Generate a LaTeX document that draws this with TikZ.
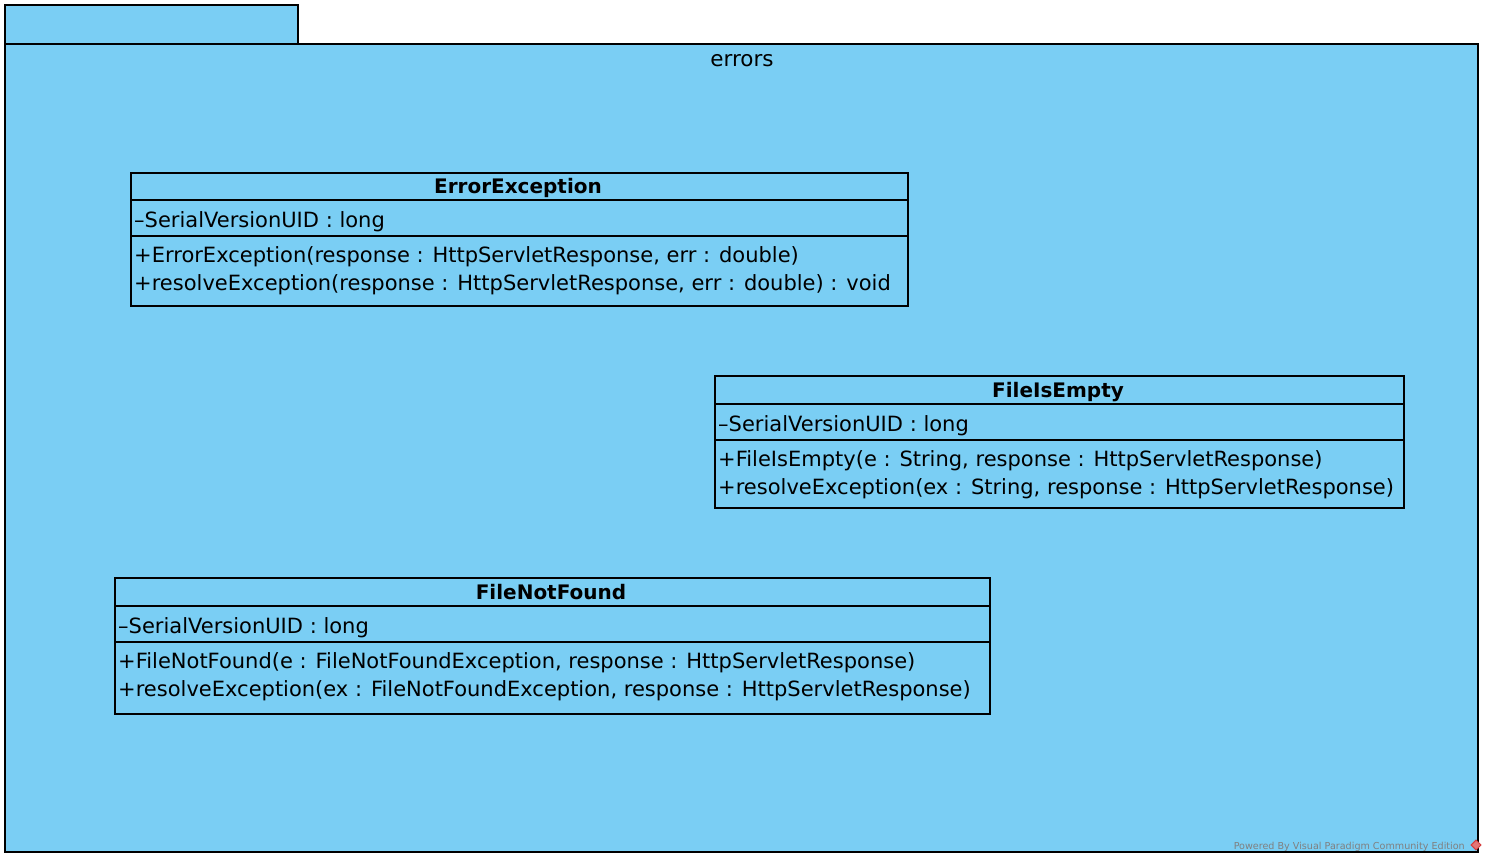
\documentclass[tikz,border=0pt]{standalone}
\usepackage{fontspec}
\setmainfont{DejaVu Sans}
\definecolor{pkgblue}{RGB}{122,206,244}
\definecolor{vpred}{RGB}{214,60,60}
\begin{document}
\begin{tikzpicture}[x=1pt,y=-1pt,
  pkgbox/.style={draw=black, fill=pkgblue, line width=1.4pt, anchor=north west, inner sep=0pt, outer sep=0pt},
  comp/.style={draw=black, fill=pkgblue, line width=1.4pt, anchor=north west, inner sep=0pt, outer sep=0pt},
  title/.style={font=\fontsize{20}{24}\selectfont\bfseries, inner sep=0pt, anchor=base},
  member/.style={font=\fontsize{21}{24}\selectfont, anchor=base west, inner sep=0pt},
  pkgname/.style={font=\fontsize{21.5}{24}\selectfont, inner sep=0pt, anchor=base},
  wmtext/.style={font=\fontsize{9.6}{11}\selectfont, text=gray, anchor=base east, inner sep=0pt}
]
\useasboundingbox (0,0) rectangle (1488,862);
\fill[white] (0,0) rectangle (1488,862);
% package
\node[pkgbox, minimum width=293, minimum height=39] (tab) at (5,5) {};
\node[pkgbox, minimum width=1473, minimum height=808] (pkg) at (5,44) {};
\node[pkgname] (pkglabel) at (742,66) {errors};

% ErrorException
\node[comp, minimum width=777, minimum height=27] (eeH) at (131,173) {};
\node[comp, minimum width=777, minimum height=36] (eeA) at (131,200) {};
\node[comp, minimum width=777, minimum height=70] (eeO) at (131,236) {};
\node[title] (eeT) at (518,193) {ErrorException};
\node[member] (eeA1) at (134,227) {–SerialVersionUID : long};
\node[member] (eeO1) at (134,262) {+ErrorException(response : HttpServletResponse, err : double)};
\node[member] (eeO2) at (134,290) {+resolveException(response : HttpServletResponse, err : double) : void};

% FileIsEmpty
\node[comp, minimum width=689, minimum height=28] (feH) at (715,376) {};
\node[comp, minimum width=689, minimum height=36] (feA) at (715,404) {};
\node[comp, minimum width=689, minimum height=68] (feO) at (715,440) {};
\node[title] (feT) at (1058,397) {FileIsEmpty};
\node[member] (feA1) at (718,431) {–SerialVersionUID : long};
\node[member] (feO1) at (718,466) {+FileIsEmpty(e : String, response : HttpServletResponse)};
\node[member] (feO2) at (718,494) {+resolveException(ex : String, response : HttpServletResponse)};

% FileNotFound
\node[comp, minimum width=875, minimum height=28] (fnH) at (115,578) {};
\node[comp, minimum width=875, minimum height=36] (fnA) at (115,606) {};
\node[comp, minimum width=875, minimum height=72] (fnO) at (115,642) {};
\node[title] (fnT) at (551,599) {FileNotFound};
\node[member] (fnA1) at (118,633) {–SerialVersionUID : long};
\node[member] (fnO1) at (118,668) {+FileNotFound(e : FileNotFoundException, response : HttpServletResponse)};
\node[member] (fnO2) at (118,696) {+resolveException(ex : FileNotFoundException, response : HttpServletResponse)};

% watermark
\node[wmtext] (wm) at (1465,849) {Powered By Visual Paradigm Community Edition};
\node[draw=vpred, fill=vpred!70, line width=1pt, minimum size=7pt, rotate=45, inner sep=0pt] (vpicon) at (1476,845) {};
\end{tikzpicture}
\end{document}
